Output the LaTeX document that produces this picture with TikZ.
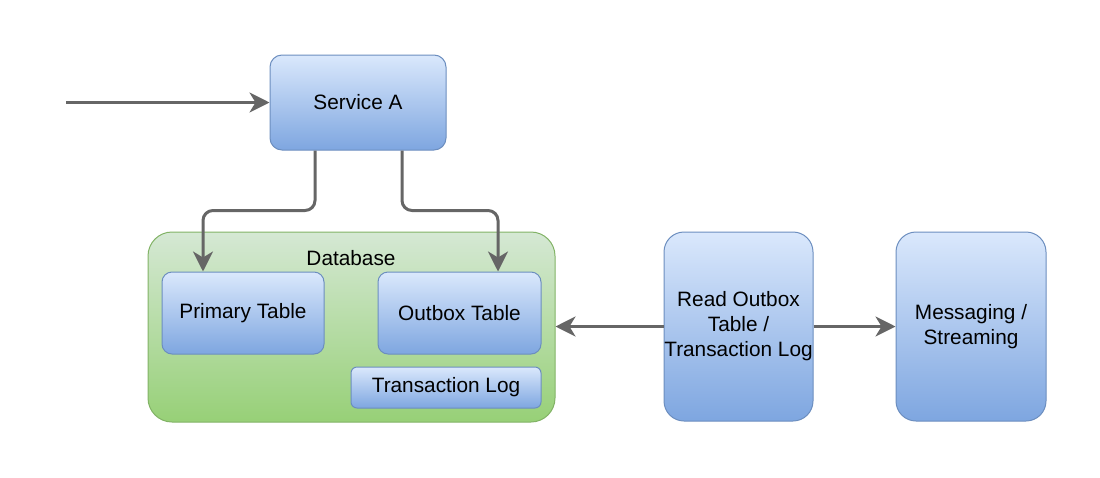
\documentclass[tikz,border=0pt]{standalone}
\usepackage{fontspec}
\setmainfont{Liberation Sans}
\usepackage{tikz}
\usetikzlibrary{arrows.meta,positioning}
\usepackage{xcolor}
\definecolor{bluetop}{HTML}{dae8fc}
\definecolor{bluebot}{HTML}{7ea6e0}
\definecolor{blueline}{HTML}{6c8ebf}
\definecolor{greentop}{HTML}{d5e8d4}
\definecolor{greenbot}{HTML}{97d077}
\definecolor{greenline}{HTML}{82b366}
\definecolor{arrowgray}{HTML}{666666}

\begin{document}
\begin{tikzpicture}[
    x=1pt, y=-1pt,
    every node/.style={font=\fontsize{20.8}{25}\selectfont, text=black},
    block/.style={draw=blueline, line width=1pt, rectangle, rounded corners=12pt, align=center, top color=bluetop, bottom color=bluebot, inner sep=0pt},
    dbbox/.style={draw=greenline, line width=1pt, rectangle, rounded corners=24pt, top color=greentop, bottom color=greenbot, inner sep=0pt},
    line/.style={draw=arrowgray, line width=3pt, -{Stealth[length=20pt, width=20pt, inset=6pt]}}
]
    \useasboundingbox (0,0) rectangle (1100,477);

    \node [block, minimum width=176pt, minimum height=95pt] (svc) at (358,102.5) {Service A};
    \coordinate (entry) at (66,102.5);

    \node [dbbox, minimum width=407pt, minimum height=190pt] (db) at (351.5,327) {};
    \node (dbtitle) at (351,258) {Database};
    \node [block, minimum width=162pt, minimum height=82pt, rounded corners=10pt] (primary) at (243,313) {Primary Table};
    \node [block, minimum width=163pt, minimum height=82pt, rounded corners=10pt] (outbox) at (459.5,313) {Outbox Table};
    \node [block, minimum width=190pt, minimum height=41pt, rounded corners=6pt] (txlog) at (446,387.5) {Transaction Log};

    \node [block, minimum width=149pt, minimum height=189pt, rounded corners=20pt] (reader) at (738.5,326.5) {Read Outbox\\Table /\\Transaction Log};
    \node [block, minimum width=150pt, minimum height=189pt, rounded corners=20pt, right=82pt of reader] (msg) {Messaging /\\Streaming};

    \path [line] (entry) -- (svc);
    \path [line, rounded corners=10pt] ([xshift=-43pt]svc.south) -- ++(0,60) -| ([xshift=-40pt]primary.north);
    \path [line, rounded corners=10pt] ([xshift=44pt]svc.south) -- ++(0,60) -| ([xshift=38.5pt]outbox.north);
    \path [line] (reader) -- (db.east |- reader.west);
    \path [line] (reader) -- (msg);
\end{tikzpicture}
\end{document}
